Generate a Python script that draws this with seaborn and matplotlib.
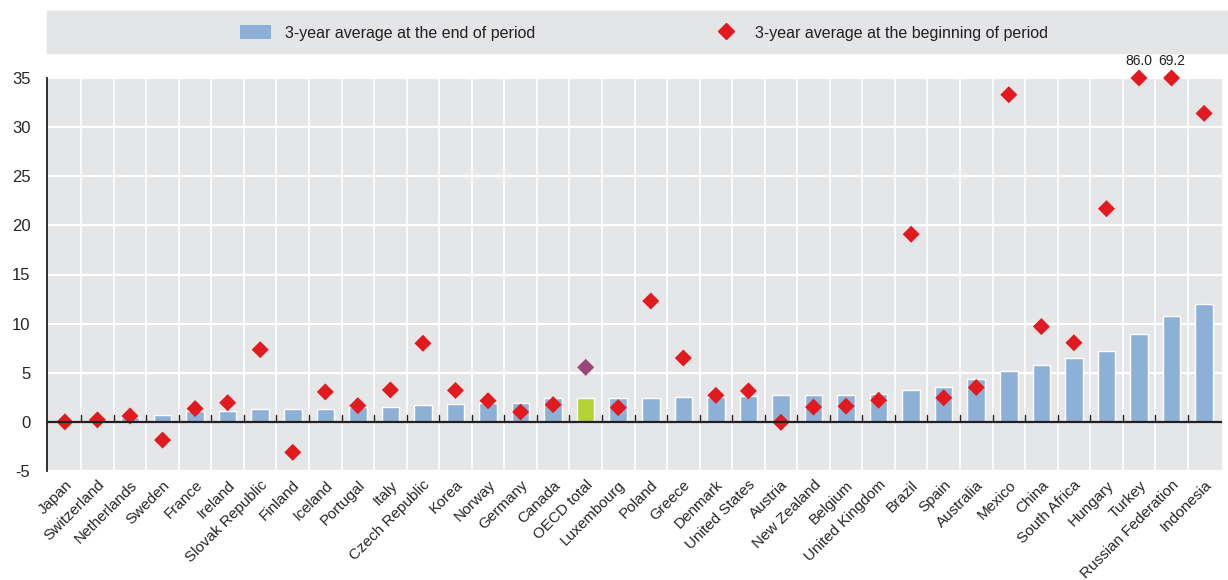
import numpy as np
import pandas as pd
import matplotlib
matplotlib.use('Agg')
import matplotlib.pyplot as plt
import seaborn as sns
from matplotlib.patches import Patch, Rectangle
from matplotlib.lines import Line2D

# --- DATA ---
countries = ['Japan', 'Switzerland', 'Netherlands', 'Sweden', 'France', 'Ireland',
             'Slovak Republic', 'Finland', 'Iceland', 'Portugal', 'Italy', 'Czech Republic',
             'Korea', 'Norway', 'Germany', 'Canada', 'OECD total', 'Luxembourg', 'Poland',
             'Greece', 'Denmark', 'United States', 'Austria', 'New Zealand', 'Belgium',
             'United Kingdom', 'Brazil', 'Spain', 'Australia', 'Mexico', 'China',
             'South Africa', 'Hungary', 'Turkey', 'Russian Federation', 'Indonesia']
end_avg = [0.0, 0.0, 0.5, 0.7, 1.1, 1.1, 1.3, 1.3, 1.3, 1.5, 1.5, 1.7, 1.8, 1.9, 1.9,
           2.4, 2.4, 2.4, 2.4, 2.5, 2.5, 2.6, 2.7, 2.7, 2.7, 2.8, 3.2, 3.6, 4.35, 5.2,
           5.8, 6.5, 7.2, 8.95, 10.8, 12.0]
begin_avg = [0.0, 0.2, 0.6, -1.85, 1.35, 1.95, 7.35, -3.1, 3.05, 1.65, 3.25, 8.0,
             3.2, 2.15, 1.0, 1.75, 5.55, 1.45, 12.3, 6.5, 2.7, 3.15, -0.05, 1.5, 1.6,
             2.2, 19.1, 2.45, 3.5, 33.3, 9.7, 8.05, 21.7, 86.0, 69.2, 31.4]
y_max = 35

df = pd.DataFrame({'country': countries, 'end': end_avg, 'begin': begin_avg})
df['begin_plot'] = np.minimum(df['begin'], y_max)

bar_col = '#8db1d6'
red = '#e2191f'
bar_colors = ['#b3d334' if c == 'OECD total' else bar_col for c in countries]
dot_colors = ['#9c4579' if c == 'OECD total' else red for c in countries]

# --- STYLE ---
sns.set_style('white')
plt.rcParams['font.family'] = ['Liberation Sans Narrow', 'Liberation Sans', 'DejaVu Sans']
plt.rcParams['text.color'] = '#231f20'
plt.rcParams['axes.unicode_minus'] = False

fig = plt.figure(figsize=(12.28, 5.8), dpi=100)
ax = fig.add_axes([47 / 1228, 1 - 471 / 580, (1222 - 47) / 1228, (471 - 78) / 580])
ax.set_facecolor('#e5e6e8')

sns.barplot(data=df, x='country', y='end', hue='country', palette=bar_colors,
            legend=False, width=0.54, saturation=1, ax=ax, zorder=3)
sns.scatterplot(data=df, x='country', y='begin_plot', hue='country', palette=dot_colors,
                legend=False, marker='D', s=75, linewidth=0, ax=ax, zorder=4, clip_on=False)

# labels for values beyond the axis
for i, (b, bp) in enumerate(zip(df['begin'], df['begin_plot'])):
    if b > y_max:
        ax.annotate(f'{b:.1f}', (i, bp), xytext=(0, 7), textcoords='offset points',
                    ha='center', va='bottom', fontsize=10, annotation_clip=False)

n = len(countries)
ax.set_xlim(-0.55, n - 0.45)
ax.set_ylim(-5, 35)
ax.set_yticks(range(-5, 36, 5))
ax.set_xlabel('')
ax.set_ylabel('')

# grid: white horizontal lines and vertical separators between categories
for yv in range(-5, 36, 5):
    ax.axhline(yv, color='white', lw=1.6, zorder=1)
for xv in np.arange(0.5, n - 0.5, 1):
    ax.axvline(xv, color='white', lw=1.2, zorder=1)
ax.axhline(0, color='#231f20', lw=1.6, zorder=5)
for xv in np.arange(0.5, n - 0.5, 1):
    ax.plot([xv, xv], [0, 0.7], color='#231f20', lw=1, zorder=5)

for s in ['top', 'right', 'bottom']:
    ax.spines[s].set_visible(False)
ax.spines['left'].set_color('#231f20')
ax.spines['left'].set_linewidth(1.3)

ax.tick_params(axis='y', direction='in', length=5, width=1, pad=12, labelsize=12)
ax.tick_params(axis='x', length=0, pad=5, labelsize=11)
plt.setp(ax.get_xticklabels(), rotation=45, ha='right', rotation_mode='anchor')

# legend band
fig.patches.append(Rectangle((47 / 1228, 1 - 53 / 580), 1 - 47 / 1228, 42 / 580,
                             transform=fig.transFigure, color='#e4e5e7', zorder=0))
handles = [Patch(facecolor=bar_col, edgecolor='none', label='3-year average at the end of period'),
           Line2D([], [], marker='D', color=red, linestyle='none', markersize=8.5,
                  label='3-year average at the beginning of period')]
fig.legend(handles=handles, loc='center', bbox_to_anchor=(644 / 1228, 1 - 33 / 580),
           ncol=2, frameon=False, fontsize=11.5, handlelength=1.94, handleheight=0.95,
           handletextpad=0.87, columnspacing=11.0)

fig.savefig('out.png', dpi=100)
